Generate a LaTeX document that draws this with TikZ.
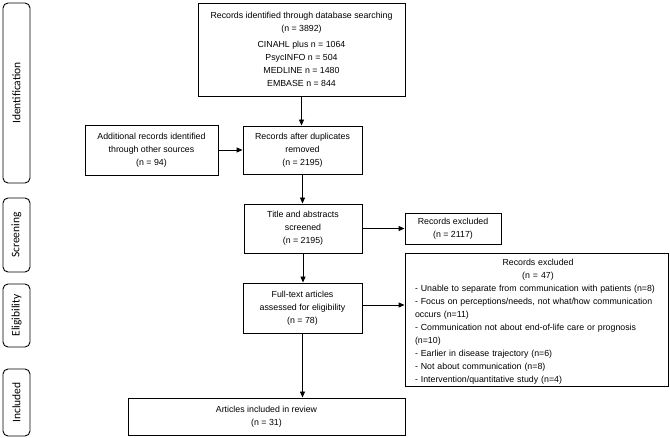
\documentclass[tikz,border=0pt]{standalone}
\usepackage{fontspec}
\setmainfont{Liberation Sans}
\newfontfamily\sidefont{Carlito}
\usetikzlibrary{arrows.meta}
\begin{document}
\begin{tikzpicture}[x=1pt,y=-1pt,
  box/.style={draw=black, line width=0.9pt, inner sep=2pt, align=center,
    font=\fontsize{8.8}{13}\selectfont},
  phase/.style={draw=black, line width=0.9pt, rounded corners=5pt, inner sep=0pt,
    minimum width=27pt},
  phaselabel/.style={rotate=90, font=\sidefont\fontsize{11.5}{13}\selectfont},
  arr/.style={line width=0.9pt, -{Triangle[length=6pt,width=5pt]}}]
\useasboundingbox (0,0) rectangle (670,438);
% phase labels
\node[phase, minimum height=180pt] (pid) at (16.5,93) {};
\node[phaselabel] (lid) at (pid.center) {Identification};
\node[phase, minimum height=74pt] (psc) at (16.5,235) {};
\node[phaselabel] (lsc) at (psc.center) {Screening};
\node[phase, minimum height=63pt] (pel) at (16.5,315.5) {};
\node[phaselabel] (lel) at (pel.center) {Eligibility};
\node[phase, minimum height=67pt] (pin) at (16.5,402.5) {};
\node[phaselabel] (lin) at (pin.center) {Included};
% boxes
\node[box, minimum width=207pt, minimum height=93pt] (top) at (301.5,49.5)
  {Records identified through database searching\\(n = 3892)\\[3pt]CINAHL plus n = 1064\\PsycINFO n = 504\\MEDLINE n = 1480\\EMBASE n = 844};
\node[box, minimum width=133pt, minimum height=50pt] (add) at (151.5,150)
  {Additional records identified\\through other sources\\(n = 94)};
\node[box, minimum width=119pt, minimum height=48pt] (dup) at (302.5,150)
  {Records after duplicates\\removed\\(n = 2195)};
\node[box, minimum width=118pt, minimum height=49pt] (title) at (303,228.5)
  {Title and abstracts\\screened\\(n = 2195)};
\node[box, minimum width=96pt, minimum height=31pt] (ex1) at (453,228.5)
  {Records excluded\\(n = 2117)};
\node[box, minimum width=119pt, minimum height=50pt] (full) at (302.5,308)
  {Full-text articles\\assessed for eligibility\\(n = 78)};
\node[box, minimum width=263pt, minimum height=133pt, align=left, inner sep=0pt] (ex2) at (536.5,319.5) {};
\node[font=\fontsize{8.8}{13}\selectfont, text width=246pt, inner sep=0pt] (ex2t) at (538,322)
  {\centering Records excluded\\(n = 47)\par
   \raggedright
   - Unable to separate from communication with patients (n=8)\\
   - Focus on perceptions/needs, not what/how communication\\
   occurs (n=11)\\
   - Communication not about end-of-life care or prognosis\\
   (n=10)\\
   - Earlier in disease trajectory (n=6)\\
   - Not about communication (n=8)\\
   - Intervention/quantitative study (n=4)\par};
\node[box, minimum width=277pt, minimum height=37pt] (art) at (266.5,416.5)
  {Articles included in review\\(n = 31)};
% arrows
\draw[arr] (top.south) -- (top.south |- dup.north);
\draw[arr] (add.east) -- (dup.west);
\draw[arr] (dup.south) -- (dup.south |- title.north);
\draw[arr] (title.east) -- (ex1.west);
\draw[arr] (title.south) -- (title.south |- full.north);
\draw[arr] ([yshift=3pt]full.east) -- ([yshift=3pt]full.east -| ex2.west);
\draw[arr] (full.south) -- (full.south |- art.north);
\end{tikzpicture}
\end{document}
